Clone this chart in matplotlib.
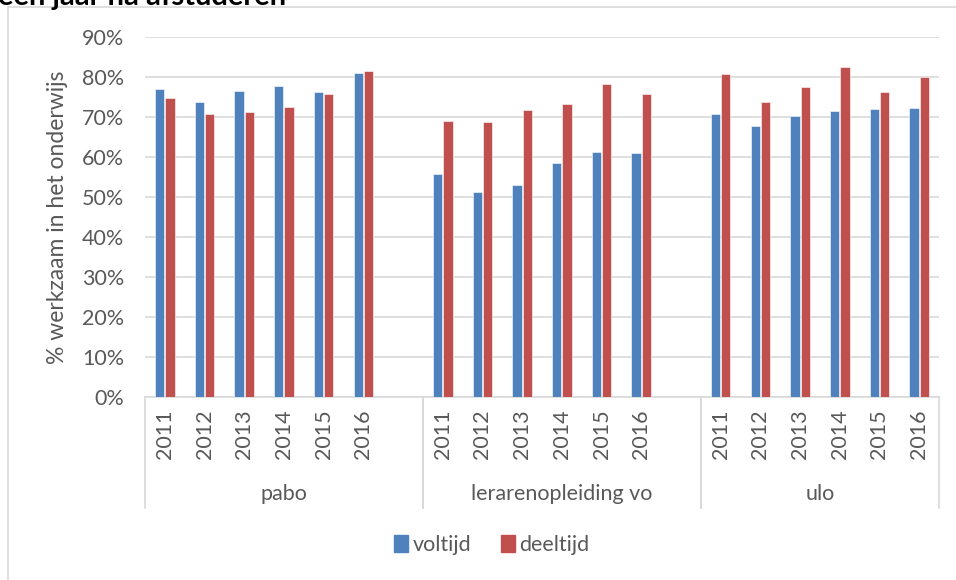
import matplotlib.pyplot as plt
from matplotlib.patches import Rectangle
from matplotlib.lines import Line2D
from matplotlib.ticker import PercentFormatter

plt.rcParams['font.family'] = ['Lato', 'DejaVu Sans']

groups = ["pabo", "lerarenopleiding vo", "ulo"]
years = ["2011", "2012", "2013", "2014", "2015", "2016"]
voltijd = [
    [77.0, 73.8, 76.6, 77.8, 76.3, 81.0],
    [55.7, 51.3, 53.0, 58.5, 61.3, 61.0],
    [70.8, 67.7, 70.3, 71.6, 71.9, 72.2],
]
deeltijd = [
    [74.8, 70.7, 71.2, 72.6, 75.7, 81.5],
    [68.9, 68.8, 71.8, 73.2, 78.2, 75.8],
    [80.7, 73.8, 77.6, 82.6, 76.2, 79.9],
]

blue = "#4F81BD"
red = "#C0504D"
grey = "#595959"
line = "#D9D9D9"

fig = plt.figure(figsize=(9.56, 5.8), dpi=100)
ax = fig.add_axes([145 / 956, 183 / 580, 794 / 956, 360 / 580])

# each group takes 7 slots (6 years + an empty one), last group only 6
slot = 7
w = 0.235
for g in range(len(groups)):
    xs = [g * slot + i for i in range(len(years))]
    ax.bar([x - 0.13 for x in xs], voltijd[g], width=w, color=blue,
           edgecolor="white", linewidth=0.4, zorder=3)
    ax.bar([x + 0.13 for x in xs], deeltijd[g], width=w, color=red,
           edgecolor="white", linewidth=0.4, zorder=3)

n_slots = slot * (len(groups) - 1) + len(years)
ax.set_xlim(-0.5, n_slots - 0.5)
ax.set_ylim(0, 90)
ax.set_yticks(range(0, 91, 10))
ax.yaxis.set_major_formatter(PercentFormatter(decimals=0))
ax.grid(axis="y", color=line, linewidth=1.2, zorder=0)
ax.tick_params(axis="y", length=0, pad=15, labelsize=15.5, labelcolor=grey)
ax.set_xticks([])
for s in ["top", "right", "left"]:
    ax.spines[s].set_visible(False)
ax.spines["bottom"].set_color(line)
ax.spines["bottom"].set_linewidth(1.2)

ax.set_ylabel("% werkzaam in het onderwijs", fontsize=16.5, color=grey, labelpad=10)

# multi-level category axis
trans = ax.get_xaxis_transform()
sep_bottom = -111 / 360
for g in range(len(groups)):
    for i, yr in enumerate(years):
        ax.text(g * slot + i, -0.035, yr, transform=trans, rotation=90,
                ha="center", va="top", fontsize=15.5, color=grey)
    start = g * slot - 0.5
    end = min(g * slot + slot, n_slots) - 0.5
    ax.text((start + end) / 2, -0.27, groups[g], transform=trans,
            ha="center", va="center", fontsize=15.5, color=grey)
    for xb in (start, end):
        ax.add_line(Line2D([xb, xb], [0, sep_bottom], transform=trans,
                           color=line, linewidth=1.2, clip_on=False))

# legend
handles = [Rectangle((0, 0), 1, 1, color=blue), Rectangle((0, 0), 1, 1, color=red)]
fig.legend(handles, ["voltijd", "deeltijd"], loc="center",
           bbox_to_anchor=(492 / 956, 1 - 545 / 580), ncol=2, frameon=False,
           fontsize=15.5, labelcolor=grey, handlelength=0.65, handleheight=0.8,
           handletextpad=0.2, columnspacing=1.4)

# outer chart frame and clipped title from the source document
fig.add_artist(Rectangle((8 / 956, -0.1), 1.2, 1.1 - 7 / 580, transform=fig.transFigure,
                         fill=False, edgecolor=line, linewidth=1.2))
fig.text(-2 / 956, 1 - 5 / 580, "een jaar na afstuderen", fontsize=21,
         fontweight="bold", color="black", ha="left", va="baseline")

fig.savefig("out.png", dpi=100)
